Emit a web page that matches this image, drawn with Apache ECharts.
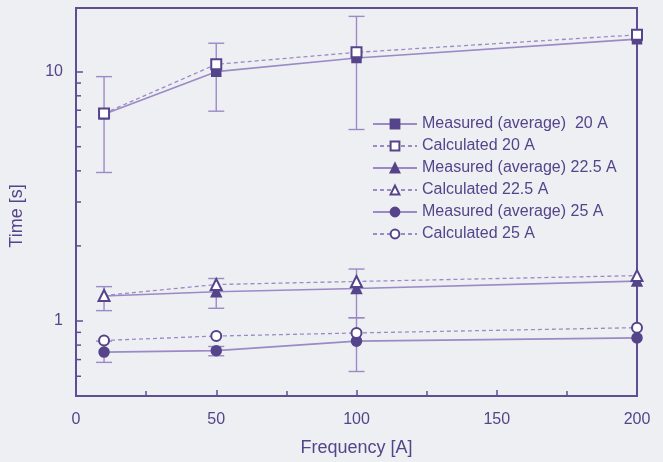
<!DOCTYPE html>
<html>
<head>
<meta charset="utf-8">
<script src="https://cdn.jsdelivr.net/npm/echarts@6/dist/echarts.min.js"></script>
<style>
html,body{margin:0;padding:0;background:#eeeff3;}
#chart{width:663px;height:462px;}
</style>
</head>
<body>
<div id="chart"></div>
<script>
// ---- data ----
var frequencies = [10, 50, 100, 200];
var measured20 = [6.75, 10.0, 11.35, 13.5];
var calculated20 = [6.8, 10.7, 11.95, 14.05];
var measured225 = [1.26, 1.31, 1.35, 1.445];
var calculated225 = [1.265, 1.40, 1.44, 1.52];
var measured25 = [0.75, 0.76, 0.83, 0.855];
var calculated25 = [0.835, 0.87, 0.895, 0.94];
var err20Low = [3.94, 6.94, 5.86, null];
var err20High = [9.55, 13.0, 16.66, null];
var err225Low = [1.10, 1.124, 1.03, null];
var err225High = [1.373, 1.48, 1.615, null];
var err25Low = [0.682, 0.725, 0.627, null];
var err25High = [0.83, 0.79, 1.03, null];
var xTicks = [0, 50, 100, 150, 200];
var yLabels = [1, 10];
var yMinorTicks = [0.6, 0.7, 0.8, 0.9, 2, 3, 4, 5, 6, 7, 8, 9];
var seriesNames = ['Measured (average)  20 A', 'Calculated 20 A', 'Measured (average) 22.5 A', 'Calculated 22.5 A', 'Measured (average) 25 A', 'Calculated 25 A'];

var lineColor = '#9b8ac6';
var markColor = '#55448a';
var axisColor = '#5f4f92';
var textColor = '#54458a';
var font = 'Liberation Sans, Arial, sans-serif';

function pairs(ys) { return frequencies.map(function (x, i) { return [x, ys[i]]; }); }
function errData(lo, hi) {
  var out = [];
  frequencies.forEach(function (x, i) { if (lo[i] != null && hi[i] != null) out.push([x, lo[i], hi[i]]); });
  return out;
}
function lineSeries(name, ys, symbol, dashed, size) {
  return {
    name: name, type: 'line', data: pairs(ys), symbol: symbol, symbolSize: size,
    showAllSymbol: true, z: 5,
    lineStyle: { color: lineColor, width: dashed ? 1.3 : 1.6, type: dashed ? [4, 3] : 'solid' },
    itemStyle: { color: markColor, borderColor: markColor, borderWidth: 1.5 },
    emphasis: { disabled: true }
  };
}
function errSeries(lo, hi) {
  return {
    type: 'custom', data: errData(lo, hi), z: 3, silent: true,
    renderItem: function (params, api) {
      var x = api.value(0);
      var p1 = api.coord([x, api.value(1)]);
      var p2 = api.coord([x, api.value(2)]);
      var hw = 8;
      var st = { stroke: lineColor, lineWidth: 1.4 };
      return { type: 'group', children: [
        { type: 'line', shape: { x1: p1[0], y1: p1[1], x2: p2[0], y2: p2[1] }, style: st },
        { type: 'line', shape: { x1: p1[0] - hw, y1: p1[1], x2: p1[0] + hw, y2: p1[1] }, style: st },
        { type: 'line', shape: { x1: p2[0] - hw, y1: p2[1], x2: p2[0] + hw, y2: p2[1] }, style: st }
      ]};
    }
  };
}

var chart = echarts.init(document.getElementById('chart'));
chart.setOption({
  backgroundColor: '#eeeff3',
  animation: false,
  grid: { left: 76, right: 26, top: 8, bottom: 64, show: true, borderColor: axisColor, borderWidth: 2, backgroundColor: 'transparent' },
  legend: {
    data: seriesNames,
    orient: 'vertical', left: 367, top: 111,
    itemWidth: 44, itemHeight: 11, itemGap: 6,
    textStyle: { color: textColor, fontSize: 16, fontFamily: font, lineHeight: 16 },
    backgroundColor: 'transparent'
  },
  xAxis: {
    type: 'value', min: 0, max: 200, interval: 50,
    name: 'Frequency [A]', nameLocation: 'middle', nameGap: 43,
    nameTextStyle: { color: textColor, fontSize: 18, fontFamily: font },
    axisLine: { lineStyle: { color: axisColor, width: 2 } },
    axisTick: { inside: true, length: 6, lineStyle: { color: axisColor, width: 1.5 } },
    minorTick: { show: true, splitNumber: 2, length: 5, lineStyle: { color: axisColor, width: 1.5 } },
    splitLine: { show: false },
    axisLabel: { color: textColor, fontSize: 16, fontFamily: font, margin: 16,
      formatter: function (v) { return xTicks.indexOf(v) >= 0 ? String(v) : ''; } }
  },
  yAxis: {
    type: 'log', logBase: 10, min: 0.5, max: 18,
    name: 'Time [s]', nameLocation: 'middle', nameGap: 50,
    nameTextStyle: { color: textColor, fontSize: 18, fontFamily: font, padding: [0, 0, 0, -28] },
    axisLine: { lineStyle: { color: axisColor, width: 2 } },
    axisTick: { inside: true, length: 7, lineStyle: { color: axisColor, width: 1.5 } },
    splitLine: { show: false },
    axisLabel: { color: textColor, fontSize: 16, fontFamily: font, margin: 13, showMinLabel: false, showMaxLabel: false,
      padding: [4, 0, 0, 0],
      formatter: function (v) {
        for (var i = 0; i < yLabels.length; i++) { if (Math.abs(v - yLabels[i]) < 1e-6 * yLabels[i]) return String(yLabels[i]); }
        return '';
      } }
  },
  series: [
    errSeries(err20Low, err20High),
    errSeries(err225Low, err225High),
    errSeries(err25Low, err25High),
    {
      type: 'custom', data: yMinorTicks.map(function (v) { return [0, v]; }), silent: true, z: 2,
      renderItem: function (params, api) {
        var p = api.coord([0, api.value(1)]);
        return { type: 'line', shape: { x1: p[0], y1: p[1], x2: p[0] + 5, y2: p[1] }, style: { stroke: axisColor, lineWidth: 1.5 } };
      }
    },
    lineSeries(seriesNames[0], measured20, 'rect', false, 9),
    lineSeries(seriesNames[1], calculated20, 'emptyRect', true, 10),
    lineSeries(seriesNames[2], measured225, 'triangle', false, 10),
    lineSeries(seriesNames[3], calculated225, 'emptyTriangle', true, 11),
    lineSeries(seriesNames[4], measured25, 'circle', false, 10),
    lineSeries(seriesNames[5], calculated25, 'emptyCircle', true, 10)
  ]
});
</script>
</body>
</html>
